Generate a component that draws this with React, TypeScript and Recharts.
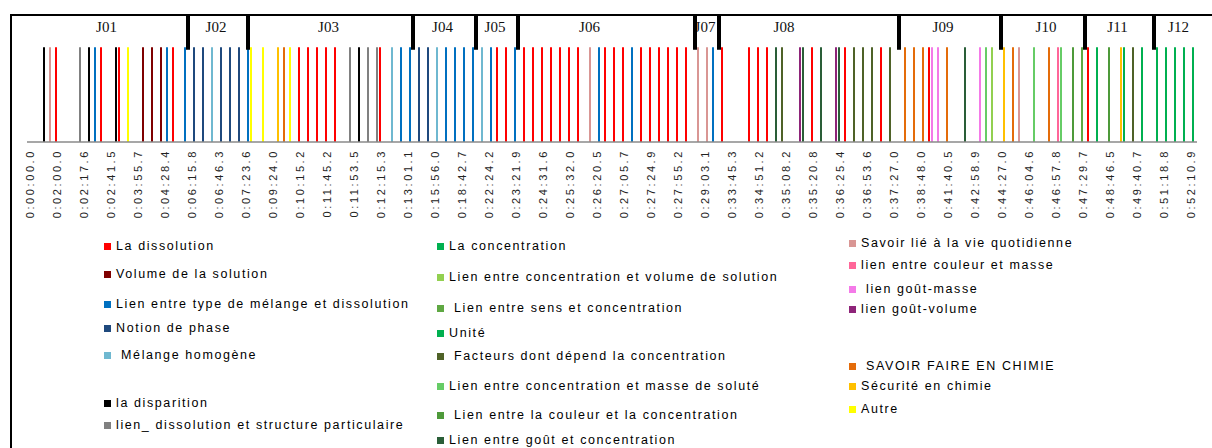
import React from "react";
import { BarChart, Bar, XAxis, YAxis, ReferenceArea } from "recharts";

// codes, in legend order
const SERIES_KEYS = [
  "dis", "vol", "typ", "pha", "hom", "disp", "lds",
  "con", "cvol", "sens", "uni", "fac", "cmas", "ccou", "gout",
  "vie", "cmasse", "gmasse", "gvol", "sfc", "sec", "aut",
];
const SERIES_NAMES = [
  "La dissolution",
  "Volume de la solution",
  "Lien entre type de mélange et dissolution",
  "Notion de phase",
  " Mélange homogène",
  "la disparition",
  "lien_ dissolution et structure particulaire",
  "La concentration",
  "Lien entre concentration et volume de solution",
  " Lien entre sens et concentration",
  "Unité",
  " Facteurs dont dépend la concentration",
  "Lien entre concentration et masse de soluté",
  " Lien entre la couleur et la concentration",
  "Lien entre goût et concentration",
  "Savoir lié à la vie quotidienne",
  "lien entre couleur et masse",
  " lien goût-masse",
  "lien goût-volume",
  " SAVOIR FAIRE EN CHIMIE",
  "Sécurité en chimie",
  "Autre",
];
const SERIES_COLORS = [
  "#ff0000", "#7f0000", "#0070c0", "#1f497d", "#6fb8d0", "#000000", "#808080",
  "#00b050", "#92d050", "#5fa843", "#00b050", "#4f6228", "#66cc66", "#4e9a3a", "#2a5e38",
  "#d99694", "#ff6699", "#f47ae8", "#8e2479", "#e46c0a", "#ffc000", "#ffff00",
];

// category axis: 390 slots, one label every 9 slots
const SLOT_COUNT = 390;
const TIME_LABELS = [
  "0:00:00.0", "0:02:00.0", "0:02:17.6", "0:02:41.5", "0:03:55.7", "0:04:28.4",
  "0:06:15.8", "0:06:46.3", "0:07:23.6", "0:09:24.0", "0:10:15.2", "0:11:45.2",
  "0:11:53.5", "0:12:15.3", "0:13:01.1", "0:15:56.0", "0:18:42.7", "0:22:24.2",
  "0:23:21.9", "0:24:31.6", "0:25:32.0", "0:26:20.5", "0:27:05.7", "0:27:24.9",
  "0:27:55.2", "0:29:03.1", "0:33:45.3", "0:34:51.2", "0:35:08.2", "0:35:20.8",
  "0:36:25.4", "0:36:53.6", "0:37:27.0", "0:38:48.0", "0:41:40.5", "0:42:58.9",
  "0:44:27.0", "0:46:04.6", "0:46:57.8", "0:47:29.7", "0:48:46.5", "0:49:40.7",
  "0:51:18.8", "0:52:10.9",
];

// coded events: slot on the time axis + code
const EVENT_SLOTS = [
  5, 7, 9, 17, 20, 22, 24, 29, 30, 33, 38, 41, 44, 46, 48, 52,
  55, 58, 61, 64, 67, 70, 73,
  74, 78, 83, 85, 87, 90, 93, 96, 99, 102, 107, 110, 113, 116, 117, 121, 124, 127,
  130, 133, 136, 139, 142, 145, 148,
  151, 154, 156, 159, 162,
  165, 168, 171, 174, 177, 180, 183, 187, 190, 192, 195, 198, 201, 204, 207, 210, 213, 216, 219,
  223, 226, 228,
  231, 240, 243, 246, 249, 251, 257, 258, 261, 264, 269, 270, 272, 275, 278, 281, 284, 287,
  292, 295, 298, 300, 301, 303, 306, 312, 317, 319, 321,
  325, 328, 330, 335, 340, 343, 344, 348, 351,
  353, 356, 360, 364, 365, 368, 371,
  376, 379, 382, 385, 388,
];
const EVENT_CODES = [
  "disp", "vie", "dis", "lds", "disp", "typ", "dis", "disp", "dis", "aut", "vol", "vol", "vol", "typ", "dis", "typ",
  "pha", "pha", "hom", "pha", "pha", "pha", "typ",
  "aut", "aut", "sec", "sfc", "aut", "dis", "dis", "dis", "dis", "dis", "lds", "disp", "lds", "lds", "dis", "hom", "typ", "typ",
  "pha", "pha", "hom", "typ", "typ", "typ", "typ",
  "hom", "typ", "dis", "dis", "typ",
  "dis", "dis", "dis", "dis", "dis", "dis", "dis", "vie", "typ", "dis", "dis", "dis", "typ", "dis", "dis", "dis", "dis", "dis", "dis",
  "vie", "vie", "typ",
  "dis", "dis", "dis", "dis", "gout", "fac", "gvol", "gout", "dis", "gout", "gvol", "gout", "dis", "fac", "fac", "fac", "dis", "fac",
  "sfc", "sfc", "sfc", "dis", "gmasse", "gmasse", "sfc", "gout", "gmasse", "cmas", "cvol",
  "sec", "sfc", "vie", "cmas", "sfc", "cmasse", "cmas", "ccou", "sens",
  "dis", "con", "ccou", "sec", "con", "fac", "con",
  "con", "con", "con", "con", "con",
];

// sessions J01..J12, separated at these slots
const SESSION_NAMES = ["J01", "J02", "J03", "J04", "J05", "J06", "J07", "J08", "J09", "J10", "J11", "J12"];
const SEPARATOR_SLOTS = [53, 73, 128, 149, 163, 222, 230, 290, 324, 352, 375];

// small nudges for the session titles (px)
const SESSION_DX: Record<string, number> = { J06: -15, J08: -23, J09: -5, J10: 5, J12: 4 };

const LEGEND_POS: Record<string, [number, number]> = {
  dis: [104, 246], vol: [104, 274], typ: [104, 304], pha: [104, 328], hom: [104, 355],
  disp: [104, 403], lds: [104, 425],
  con: [437, 246], cvol: [437, 277], sens: [437, 308], uni: [437, 333], fac: [437, 356],
  cmas: [437, 386], ccou: [437, 415], gout: [437, 440],
  vie: [849, 243], cmasse: [849, 265], gmasse: [849, 289], gvol: [849, 309],
  sfc: [849, 366], sec: [849, 386], aut: [849, 409],
};

const rows: Record<string, any>[] = [];
for (let s = 0; s < SLOT_COUNT; s++) rows.push({ slot: s });
EVENT_SLOTS.forEach((s, i) => {
  rows[s][EVENT_CODES[i]] = 1;
});
SEPARATOR_SLOTS.forEach((s) => {
  rows[s].sep = 0.26;
});

const sessionStarts = [0, ...SEPARATOR_SLOTS];
const sessionEnds = [...SEPARATOR_SLOTS.map((s) => s - 1), SLOT_COUNT - 1];

const minorTicks: number[] = [];
for (let v = 0; v <= SLOT_COUNT; v += 3) minorTicks.push(v);

function TimeTick(props: any) {
  const { x, y, payload } = props;
  const label = TIME_LABELS[Math.round(payload.value / 9)] ?? "";
  return (
    <text
      x={x + 1}
      y={y}
      transform={`rotate(-90 ${x + 1} ${y})`}
      textAnchor="end"
      dominantBaseline="central"
      fontFamily="Liberation Sans, Arial, sans-serif"
      fontSize={11}
      letterSpacing={2.6}
      fill="#222"
    >
      {label}
    </text>
  );
}

const sessionLabel = (name: string) => (p: any) => {
  const vb = p.viewBox;
  return (
    <text
      x={vb.x + vb.width / 2 + (SESSION_DX[name] ?? 0)}
      y={27}
      textAnchor="middle"
      dominantBaseline="central"
      fontFamily="Liberation Serif, Times New Roman, serif"
      fontSize={15}
      fill="#111"
    >
      {name}
    </text>
  );
};

export default function App() {
  return (
    <div
      style={{
        position: "absolute",
        left: 0,
        top: 0,
        width: 1212,
        height: 448,
        background: "#fff",
        overflow: "hidden",
      }}
    >
      <div
        style={{
          position: "absolute",
          left: 10,
          top: 14,
          width: 1202,
          height: 440,
          borderTop: "2px solid #000",
          borderLeft: "2px solid #000",
          boxSizing: "border-box",
        }}
      />
      <div style={{ position: "absolute", left: 0, top: 0 }}>
        <BarChart
          width={1212}
          height={230}
          data={rows}
          margin={{ top: 16, right: 15, bottom: 0, left: 27 }}
          barCategoryGap={0}
          barGap={0}
        >
          <XAxis
            xAxisId="minor"
            type="number"
            dataKey="slot"
            domain={[0, SLOT_COUNT]}
            ticks={minorTicks}
            interval={0}
            height={0}
            axisLine={false}
            tickLine={{ stroke: "#8a8a8a", strokeWidth: 1 }}
            tickSize={5}
            tick={() => <g />}
          />
          <XAxis
            xAxisId="cat"
            dataKey="slot"
            type="category"
            interval={8}
            height={88}
            tickLine={false}
            tickSize={5}
            tickMargin={2}
            axisLine={{ stroke: "#8a8a8a", strokeWidth: 1.5 }}
            tick={<TimeTick />}
          />
          <XAxis xAxisId="sep" dataKey="slot" type="category" hide />
          <YAxis yAxisId="main" hide domain={[0, 1.33]} />
          <YAxis yAxisId="sep" hide reversed domain={[0, 1]} />
          {sessionStarts.map((start, i) => (
            <ReferenceArea
              key={SESSION_NAMES[i]}
              xAxisId="sep"
              yAxisId="sep"
              x1={start}
              x2={sessionEnds[i]}
              fill="none"
              fillOpacity={0}
              stroke="none"
              label={sessionLabel(SESSION_NAMES[i])}
            />
          ))}
          {SERIES_KEYS.map((k, i) => (
            <Bar
              key={k}
              dataKey={k}
              name={SERIES_NAMES[i]}
              stackId="codes"
              xAxisId="cat"
              yAxisId="main"
              fill={SERIES_COLORS[i]}
              barSize={2}
              isAnimationActive={false}
            />
          ))}
          <Bar
            dataKey="sep"
            xAxisId="sep"
            yAxisId="sep"
            fill="#000"
            stroke="#000"
            strokeWidth={2}
            barSize={2}
            isAnimationActive={false}
          />
        </BarChart>
      </div>
      {SERIES_KEYS.map((k, i) => {
        const [x, y] = LEGEND_POS[k];
        return (
          <div
            key={k}
            style={{
              position: "absolute",
              left: x,
              top: y - 8,
              height: 16,
              display: "flex",
              alignItems: "center",
              fontFamily: "Liberation Sans, Arial, sans-serif",
              fontSize: 12.5,
              letterSpacing: 1.6,
              color: "#000",
              whiteSpace: "pre",
            }}
          >
            <span
              style={{
                display: "inline-block",
                width: 7,
                height: 7,
                background: SERIES_COLORS[i],
                marginRight: 5,
              }}
            />
            <span>{SERIES_NAMES[i]}</span>
          </div>
        );
      })}
    </div>
  );
}
